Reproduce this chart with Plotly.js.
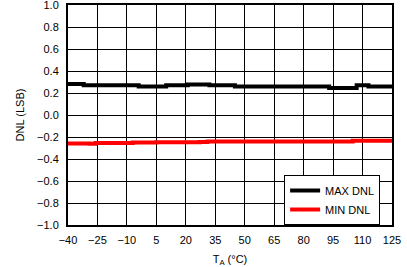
<!DOCTYPE html>
<html><head><meta charset="utf-8">
<script src="https://cdn.plot.ly/plotly-3.0.1.min.js"></script>
<style>html,body{margin:0;padding:0;background:#fff;}#chart{width:407px;height:267px;}</style>
</head><body><div id="chart"></div>
<script>
const maxTemps = [-40, -32, -4, 10, 21, 32, 45, 93, 107, 113, 125];
const maxDnl = [0.282, 0.27, 0.258, 0.27, 0.278, 0.27, 0.258, 0.245, 0.27, 0.258, 0.258];
const minTemps = [-40, -29, -26, -7, 5, 27, 31, 105, 125];
const minDnl = [-0.258, -0.261, -0.255, -0.249, -0.248, -0.245, -0.242, -0.233, -0.233];
const xTicks = [-40, -25, -10, 5, 20, 35, 50, 65, 80, 95, 110, 125];
const yTicks = [-1.0, -0.8, -0.6, -0.4, -0.2, 0.0, 0.2, 0.4, 0.6, 0.8, 1.0];

const traces = [
  {x: maxTemps, y: maxDnl, mode: 'lines', name: 'MAX DNL', line: {color: '#000000', width: 4, shape: 'hv'}},
  {x: minTemps, y: minDnl, mode: 'lines', name: 'MIN DNL', line: {color: '#ff0000', width: 4, shape: 'hv'}}
];
const font = {family: 'Liberation Sans, Arial, sans-serif', size: 11, color: '#000'};
const layout = {
  width: 407, height: 267,
  margin: {l: 68, r: 15, t: 5, b: 42},
  paper_bgcolor: '#fff', plot_bgcolor: '#fff',
  font: font,
  showlegend: true,
  legend: {x: 0.667, y: 0, xanchor: 'left', yanchor: 'bottom', bgcolor: '#fff', bordercolor: '#000', borderwidth: 1, font: font, tracegroupgap: 0},
  xaxis: {
    range: [-40, 125], tickvals: xTicks, ticktext: xTicks.map(v => v < 0 ? '\u2212' + Math.abs(v) : String(v)),
    showgrid: true, gridcolor: '#000', gridwidth: 1, zeroline: false,
    showline: true, linecolor: '#000', linewidth: 2, mirror: true, ticks: '',
    ticklabeloverflow: 'allow', ticklabelstandoff: 4,
    title: {text: 'T<sub>A</sub> (°C)', font: font, standoff: 12}
  },
  yaxis: {
    range: [-1, 1], tickvals: yTicks, ticktext: yTicks.map(v => (v < 0 ? '\u2212' : '') + Math.abs(v).toFixed(1)),
    showgrid: true, gridcolor: '#000', gridwidth: 1, zeroline: false,
    showline: true, linecolor: '#000', linewidth: 2, mirror: true, ticks: '',
    ticklabeloverflow: 'allow', ticklabelstandoff: 5,
    title: {text: 'DNL (LSB)', font: font, standoff: 10}
  }
};
Plotly.newPlot('chart', traces, layout, {staticPlot: true, displayModeBar: false});
</script></body></html>
